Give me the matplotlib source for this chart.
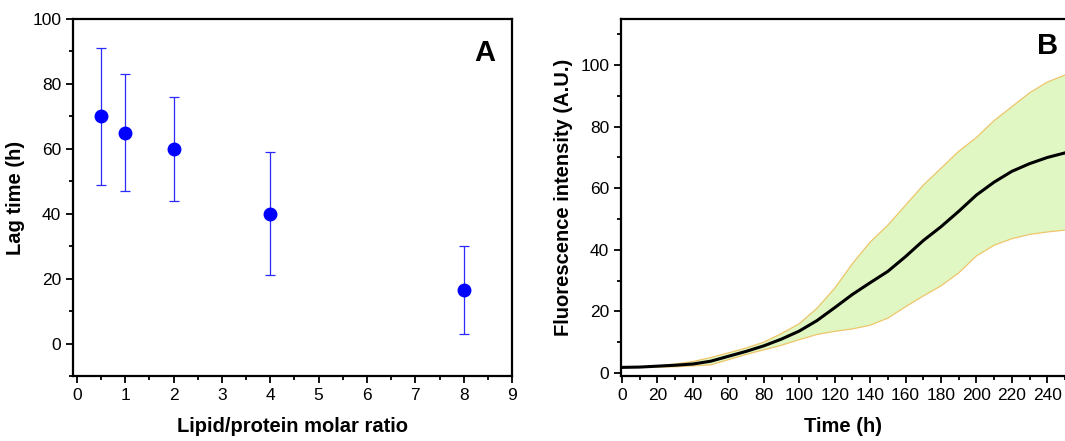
import matplotlib
matplotlib.use("Agg")
import matplotlib.pyplot as plt
from matplotlib.ticker import MultipleLocator

plt.rcParams['font.family'] = ['Liberation Sans', 'DejaVu Sans']

# Panel A data
ratio = [0.5, 1, 2, 4, 8]
lag_time = [70, 65, 60, 40, 16.5]
lag_err = [21, 18, 16, 19, 13.5]

# Panel B data
time_h = [0, 10, 20, 30, 40, 50, 60, 70, 80, 90, 100, 110, 120, 130, 140, 150,
          160, 170, 180, 190, 200, 210, 220, 230, 240, 250]
fluor_mean = [1.8, 1.9, 2.2, 2.5, 2.9, 3.8, 5.4, 7.0, 8.8, 11.0, 13.6, 17.0, 21.2,
              25.5, 29.3, 33.0, 37.8, 43.0, 47.5, 52.5, 57.8, 62.0, 65.5, 68.0, 70.0, 71.5]
fluor_upper = [1.8, 2.0, 2.3, 2.9, 3.7, 5.0, 6.5, 8.1, 10.0, 12.8, 16.0, 21.0, 27.5,
               35.5, 42.5, 48.0, 54.5, 61.0, 66.5, 72.0, 76.5, 82.0, 86.5, 91.0, 94.5, 96.8]
fluor_lower = [1.8, 1.8, 1.9, 2.0, 2.3, 2.6, 4.3, 6.0, 7.5, 9.0, 10.8, 12.5, 13.5,
               14.3, 15.5, 17.8, 21.5, 25.0, 28.3, 32.5, 38.0, 41.5, 43.6, 45.0, 45.8, 46.4]

fig = plt.figure(figsize=(10.65, 4.41), dpi=100)

axA = fig.add_axes([0.0685, 0.1474, 0.4123, 0.8095])
axB = fig.add_axes([0.5831, 0.1474, 0.4169, 0.8095])

tick_fs = 12.5
label_fs = 14.5

# Panel A
axA.errorbar(ratio, lag_time, yerr=lag_err, fmt='o', color='#0000ff', ecolor='#2a2aff',
             markersize=9, elinewidth=0.9, capsize=3.6, capthick=0.9, zorder=3)
axA.set_xlim(-0.08, 9)
axA.set_ylim(-10, 100)
axA.xaxis.set_major_locator(MultipleLocator(1))
axA.xaxis.set_minor_locator(MultipleLocator(0.5))
axA.yaxis.set_major_locator(MultipleLocator(20))
axA.yaxis.set_minor_locator(MultipleLocator(10))
axA.set_xlabel('Lipid/protein molar ratio', fontsize=label_fs, fontweight='bold', labelpad=10)
axA.set_ylabel('Lag time (h)', fontsize=label_fs, fontweight='bold', labelpad=5)
axA.text(0.938, 0.905, 'A', transform=axA.transAxes, fontsize=21, fontweight='bold',
         ha='center', va='center')

# Panel B
axB.fill_between(time_h, fluor_lower, fluor_upper, facecolor='#e0f7c4', edgecolor='none', zorder=1)
axB.plot(time_h, fluor_upper, color='#eec56a', lw=0.9, zorder=2)
axB.plot(time_h, fluor_lower, color='#eec56a', lw=0.9, zorder=2)
axB.plot(time_h, fluor_mean, color='black', lw=2.2, zorder=3)
axB.set_xlim(-0.6, 250)
axB.set_ylim(-1, 115)
axB.xaxis.set_major_locator(MultipleLocator(20))
axB.xaxis.set_minor_locator(MultipleLocator(10))
axB.yaxis.set_major_locator(MultipleLocator(20))
axB.yaxis.set_minor_locator(MultipleLocator(10))
axB.set_xlabel('Time (h)', fontsize=label_fs, fontweight='bold', labelpad=10)
axB.set_ylabel('Fluorescence intensity (A.U.)', fontsize=label_fs, fontweight='bold', labelpad=5)
axB.text(0.96, 0.924, 'B', transform=axB.transAxes, fontsize=21, fontweight='bold',
         ha='center', va='center')
axB.spines['right'].set_visible(False)

for ax in (axA, axB):
    for s in ax.spines.values():
        s.set_linewidth(1.6)
    ax.tick_params(which='both', direction='out', top=False, right=False, width=1.3)
    ax.tick_params(which='major', length=5, labelsize=tick_fs)
    ax.tick_params(which='minor', length=3)

fig.savefig('out.png', dpi=100)
